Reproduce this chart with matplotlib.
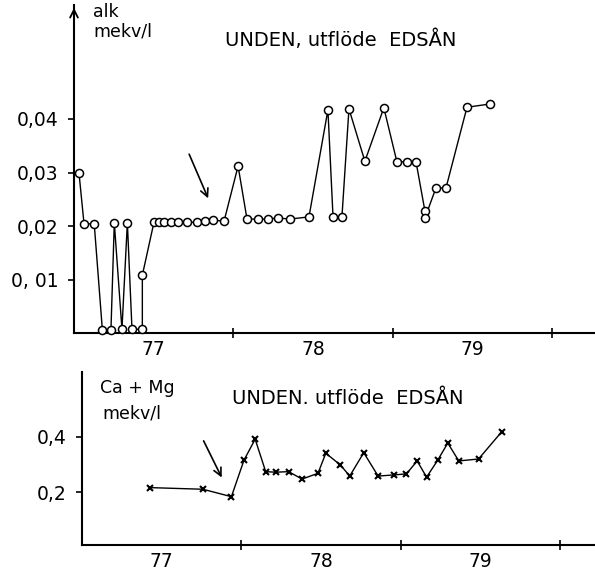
import matplotlib
matplotlib.use("Agg")
import matplotlib.pyplot as plt
import numpy as np

plt.rcParams['font.family'] = ['DejaVu Sans']

# ---- data: top panel (alkalinity, mekv/l) ----
alk_t = [1977.031, 1977.063, 1977.127, 1977.178, 1977.232, 1977.253, 1977.301,
         1977.335, 1977.364, 1977.429, 1977.429, 1977.502, 1977.534, 1977.565,
         1977.609, 1977.653, 1977.709, 1977.772, 1977.823, 1977.873, 1977.942,
         1978.030, 1978.086, 1978.155, 1978.218, 1978.280, 1978.356, 1978.475,
         1978.594, 1978.626, 1978.682, 1978.726, 1978.826, 1978.945, 1979.027,
         1979.090, 1979.147, 1979.203, 1979.203, 1979.272, 1979.335, 1979.467,
         1979.611]
alk_v = [0.0300, 0.0204, 0.0204, 0.0006, 0.0006, 0.0206, 0.0007,
         0.0206, 0.0007, 0.0007, 0.0108, 0.0207, 0.0207, 0.0207,
         0.0207, 0.0207, 0.0207, 0.0207, 0.0209, 0.0211, 0.0209,
         0.0312, 0.0213, 0.0213, 0.0213, 0.0215, 0.0213, 0.0217,
         0.0417, 0.0217, 0.0217, 0.0419, 0.0321, 0.0421, 0.0320,
         0.0320, 0.0320, 0.0228, 0.0215, 0.0271, 0.0271, 0.0422,
         0.0428]

# ---- data: bottom panel (Ca + Mg, mekv/l) ----
camg_t = [1977.424, 1977.758, 1977.937, 1978.016, 1978.086, 1978.152, 1978.215,
          1978.296, 1978.380, 1978.480, 1978.529, 1978.621, 1978.679, 1978.767,
          1978.857, 1978.955, 1979.035, 1979.102, 1979.161, 1979.230, 1979.294,
          1979.363, 1979.487, 1979.632]
camg_v = [0.216, 0.210, 0.183, 0.316, 0.392, 0.274, 0.272,
          0.274, 0.247, 0.268, 0.341, 0.298, 0.258, 0.343,
          0.258, 0.262, 0.266, 0.313, 0.254, 0.315, 0.378,
          0.313, 0.320, 0.419]

top_yticks = [0.01, 0.02, 0.03, 0.04]
top_yticklabels = ["0, 01", "0,02", "0,03", "0,04"]
bot_yticks = [0.2, 0.4]
bot_yticklabels = ["0,2", "0,4"]
year_bounds = [1978, 1979, 1980]
year_mids = [1977.5, 1978.5, 1979.5]
year_labels = ["77", "78", "79"]

W, H = 595, 571
fig = plt.figure(figsize=(W / 100, H / 100), dpi=100)

def px_axes(left, right, top, bottom):
    return fig.add_axes([left / W, 1 - bottom / H, (right - left) / W, (bottom - top) / H])

ax1 = px_axes(74, 595, 5, 333)
ax2 = px_axes(82, 595, 372, 545)

for ax in (ax1, ax2):
    for s in ("top", "right"):
        ax.spines[s].set_visible(False)
    for s in ("left", "bottom"):
        ax.spines[s].set_linewidth(1.5)
    ax.set_xticks(year_bounds)
    ax.set_xticklabels([])
    ax.set_xticks(year_mids, minor=True)
    ax.set_xticklabels(year_labels, minor=True, fontsize=13.5)
    ax.tick_params(axis="x", which="major", direction="inout", length=7, width=1.2)
    ax.tick_params(axis="x", which="minor", length=0, pad=5)
    ax.tick_params(axis="y", direction="out", length=4, width=1.2, labelsize=13.5, pad=7)

# top panel
ax1.plot(alk_t, alk_v, color="black", lw=1.0, marker="o", ms=5.8,
         mfc="white", mec="black", mew=1.1, clip_on=False, zorder=3)
ax1.set_xlim(1977.0, 1977.0 + (595 - 74) / 159.3)
ax1.set_ylim(0, (333 - 5) / 5350)
ax1.set_yticks(top_yticks)
ax1.set_yticklabels(top_yticklabels)
ax1.annotate("", xy=(0, 1.0), xytext=(0, 0.93), xycoords="axes fraction",
             arrowprops=dict(arrowstyle="->", color="black", lw=1.3,
                             mutation_scale=14))
ax1.text(93 / W, 1 - 12 / H, "alk", transform=fig.transFigure, fontsize=12.5,
         ha="left", va="center")
ax1.text(93 / W, 1 - 31 / H, "mekv/l", transform=fig.transFigure, fontsize=12.5,
         ha="left", va="center")
ax1.text(225 / W, 1 - 40 / H, "UNDEN, utflöde  EDSÅN", transform=fig.transFigure,
         fontsize=14, ha="left", va="center")
ax1.annotate("", xy=(1977.849, 0.0247), xytext=(1977.716, 0.0339),
             arrowprops=dict(arrowstyle="->", color="black", lw=1.2,
                             mutation_scale=14))

# bottom panel
ax2.plot(camg_t, camg_v, color="black", lw=1.0, marker="x", ms=5,
         mec="black", mew=1.5, clip_on=False, zorder=3)
ax2.set_xlim(1977.0, 1977.0 + (595 - 82.5) / 159.3)
ax2.set_ylim((547 - 545) / 275, (547 - 372) / 275)
ax2.set_yticks(bot_yticks)
ax2.set_yticklabels(bot_yticklabels)
ax2.text(100 / W, 1 - 388 / H, "Ca + Mg", transform=fig.transFigure, fontsize=12.5,
         ha="left", va="center")
ax2.text(102 / W, 1 - 413 / H, "mekv/l", transform=fig.transFigure, fontsize=12.5,
         ha="left", va="center")
ax2.text(232 / W, 1 - 398 / H, "UNDEN. utflöde  EDSÅN", transform=fig.transFigure,
         fontsize=14, ha="left", va="center")
ax2.annotate("", xy=(1977.884, 0.2436), xytext=(1977.755, 0.395),
             arrowprops=dict(arrowstyle="->", color="black", lw=1.2,
                             mutation_scale=14))

fig.savefig("out.png", dpi=100)
